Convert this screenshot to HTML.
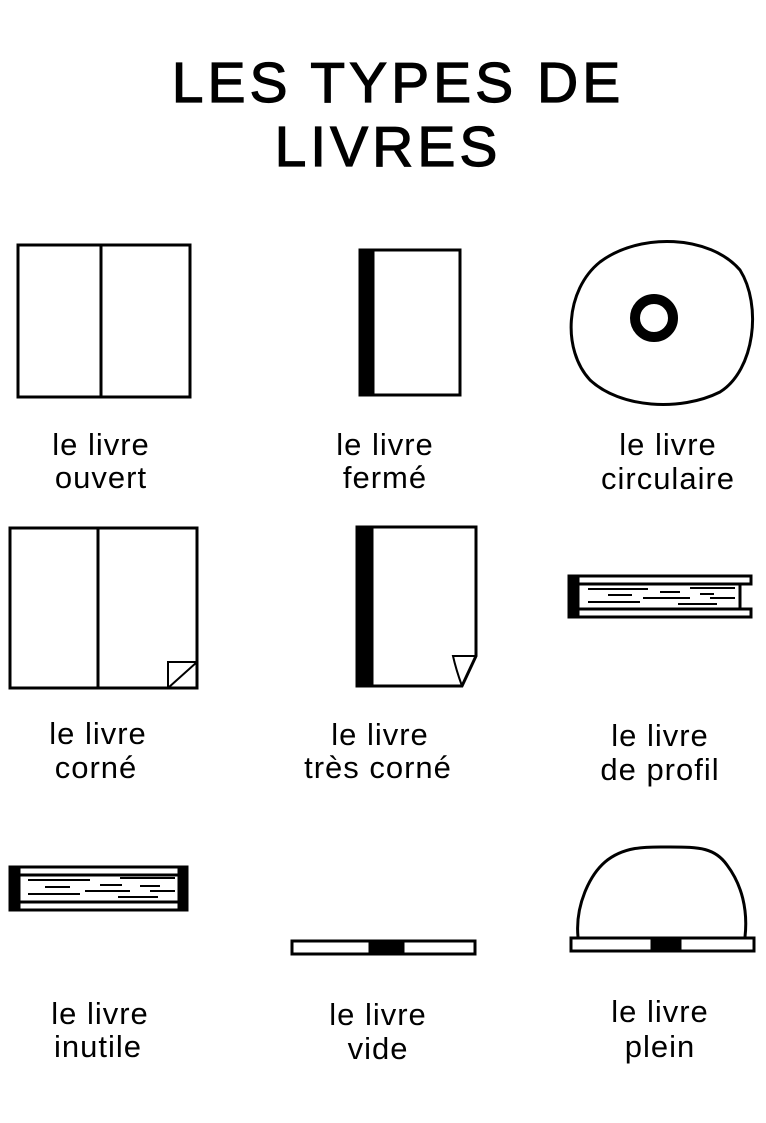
<!DOCTYPE html>
<html><head><meta charset="utf-8"><style>
html,body{margin:0;padding:0;background:#fff}
svg{display:block}
text{font-family:"Liberation Sans",sans-serif;fill:#000}
.t{font-size:57px;letter-spacing:4px;stroke:#000;stroke-width:1.2px}
.l{font-size:31px;letter-spacing:1px}
</style></head><body>
<svg width="766" height="1123" viewBox="0 0 766 1123" xmlns="http://www.w3.org/2000/svg">
<rect width="766" height="1123" fill="#fff"/>
<text class="t" x="398" y="102" text-anchor="middle">LES TYPES DE</text>
<text class="t" x="388" y="166" text-anchor="middle">LIVRES</text>
<g fill="none" stroke="#000" stroke-width="3">
<rect x="18" y="245" width="172" height="152"/>
<line x1="101" y1="245" x2="101" y2="397"/>
<rect x="360" y="250" width="100" height="145"/>
<rect x="360" y="250" width="13" height="145" fill="#000"/>
<path d="M600,262 C640,232 710,235 740,270 C762,305 755,370 720,392 C680,412 620,408 590,380 C562,350 565,290 600,262Z"/>
<circle cx="654" cy="318" r="19" stroke-width="10"/>
<rect x="10" y="528" width="187" height="160"/>
<line x1="98" y1="528" x2="98" y2="688"/>
<path d="M168,688 L168,662 L197,662 M168,688 L197,662" stroke-width="2"/>
<path d="M357,527 L476,527 L476,656 L462,686 L357,686 Z"/>
<rect x="357" y="527" width="15" height="159" fill="#000"/>
<path d="M462,686 C458,675 455,665 453,656 L476,656" stroke-width="2"/>
<rect x="569" y="576" width="182" height="8"/>
<rect x="569" y="609" width="182" height="8"/>
<line x1="740" y1="584" x2="740" y2="609"/>
<rect x="569" y="576" width="9" height="41" fill="#000"/>
<rect x="10" y="867" width="177" height="8"/>
<rect x="10" y="902" width="177" height="8"/>
<rect x="10" y="867" width="9" height="43" fill="#000"/>
<rect x="179" y="867" width="8" height="43" fill="#000"/>
<rect x="292" y="941" width="183" height="13"/>
<rect x="370" y="941" width="33" height="13" fill="#000"/>
<path d="M578,937 C575,905 590,875 605,862 C625,845 650,847 670,847 C700,847 715,848 727,865 C742,885 748,910 745,937"/>
<rect x="571" y="938" width="183" height="13"/>
<rect x="652" y="938" width="28" height="13" fill="#000"/>
</g>
<g stroke="#000" stroke-width="2">
<line x1="588" y1="589" x2="648" y2="589"/><line x1="690" y1="588" x2="735" y2="588"/>
<line x1="608" y1="595" x2="632" y2="595"/><line x1="660" y1="592" x2="680" y2="592"/><line x1="700" y1="594" x2="714" y2="594"/>
<line x1="588" y1="602" x2="640" y2="602"/><line x1="643" y1="598" x2="690" y2="598"/><line x1="710" y1="598" x2="735" y2="598"/><line x1="678" y1="604" x2="717" y2="604"/>
<line x1="28" y1="880" x2="90" y2="880"/><line x1="120" y1="878" x2="175" y2="878"/>
<line x1="45" y1="887" x2="70" y2="887"/><line x1="100" y1="885" x2="122" y2="885"/><line x1="140" y1="886" x2="160" y2="886"/>
<line x1="28" y1="894" x2="80" y2="894"/><line x1="85" y1="891" x2="130" y2="891"/><line x1="150" y1="891" x2="175" y2="891"/><line x1="118" y1="897" x2="158" y2="897"/>
</g>
<g text-anchor="middle">
<text class="l" x="101" y="455">le livre</text><text class="l" x="101" y="488">ouvert</text>
<text class="l" x="385" y="455">le livre</text><text class="l" x="385" y="488">fermé</text>
<text class="l" x="668" y="455">le livre</text><text class="l" x="668" y="489">circulaire</text>
<text class="l" x="98" y="744">le livre</text><text class="l" x="96" y="778">corné</text>
<text class="l" x="380" y="745">le livre</text><text class="l" x="378" y="778">très corné</text>
<text class="l" x="660" y="746">le livre</text><text class="l" x="660" y="780">de profil</text>
<text class="l" x="100" y="1024">le livre</text><text class="l" x="98" y="1057">inutile</text>
<text class="l" x="378" y="1025">le livre</text><text class="l" x="378" y="1059">vide</text>
<text class="l" x="660" y="1022">le livre</text><text class="l" x="660" y="1057">plein</text>
</g>
</svg>
</body></html>
